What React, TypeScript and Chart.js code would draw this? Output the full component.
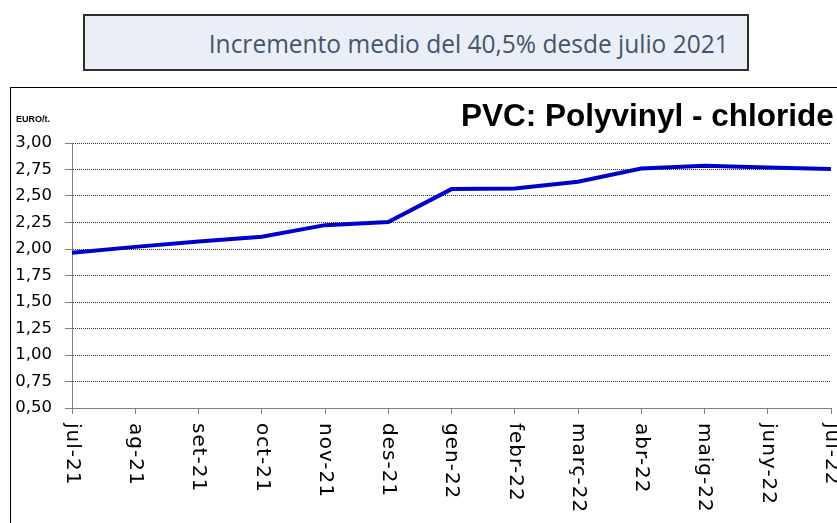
import React, { useEffect, useLayoutEffect, useRef } from 'react';
import { Chart, registerables } from 'chart.js';

Chart.register(...registerables);

const months = ['jul-21', 'ag-21', 'set-21', 'oct-21', 'nov-21', 'des-21', 'gen-22', 'febr-22', 'març-22', 'abr-22', 'maig-22', 'juny-22', 'jul-22'];
const pvcPrices = [1.965, 2.02, 2.07, 2.115, 2.225, 2.255, 2.565, 2.57, 2.635, 2.76, 2.785, 2.77, 2.755];
const yMin = 0.5;
const yMax = 3.0;
const yStep = 0.25;
const chartTitle = 'PVC: Polyvinyl - chloride';
const unitLabel = 'EURO/t.';
const headline = 'Incremento medio del 40,5% desde julio 2021';

const overlayPlugin = {
  id: 'overlay',
  afterDraw(chart: any) {
    const ctx = chart.ctx as CanvasRenderingContext2D;
    const xs = chart.scales.x;
    ctx.save();
    ctx.fillStyle = '#000';
    ctx.font = '20px "DejaVu Sans"';
    (ctx as any).letterSpacing = '1px';
    ctx.textAlign = 'left';
    ctx.textBaseline = 'middle';
    months.forEach((m, i) => {
      const x = xs.getPixelForTick(i);
      ctx.save();
      ctx.translate(x, xs.top + 15);
      ctx.rotate(Math.PI / 2);
      ctx.fillText(m, 0, 0);
      ctx.restore();
    });
    (ctx as any).letterSpacing = '0px';
    ctx.textBaseline = 'alphabetic';
    ctx.font = 'bold 31.5px "Liberation Sans"';
    ctx.fillText(chartTitle, 450, 38);
    ctx.font = 'bold 9px "Liberation Sans"';
    ctx.fillText(unitLabel, 5, 34);
    ctx.restore();
  },
};

function PvcChart() {
  const ref = useRef<HTMLCanvasElement>(null);
  useEffect(() => {
    if (!ref.current) return;
    const chart = new Chart(ref.current, {
      type: 'line',
      data: {
        labels: months,
        datasets: [
          {
            data: pvcPrices,
            borderColor: '#0000CC',
            backgroundColor: '#0000CC',
            borderWidth: 4,
            pointRadius: 0,
            tension: 0,
            fill: false,
          },
        ],
      },
      options: {
        animation: false,
        responsive: false,
        devicePixelRatio: 1,
        layout: { padding: { top: 55, right: 6, left: 0, bottom: 0 } },
        plugins: { legend: { display: false }, tooltip: { enabled: false }, title: { display: false } },
        scales: {
          x: {
            type: 'category',
            offset: false,
            ticks: { display: false },
            grid: { display: true, drawOnChartArea: false, drawTicks: true, tickLength: 6, tickColor: '#808080', tickWidth: 1 },
            border: { display: true, color: '#808080', width: 1 },
            afterFit: (scale: any) => { scale.height = 115; },
          },
          y: {
            min: yMin,
            max: yMax,
            ticks: {
              stepSize: yStep,
              color: '#000',
              padding: 13,
              font: { family: '"DejaVu Sans"', size: 16.5 },
              callback: (v: any) => Number(v).toFixed(2).replace('.', ','),
            },
            grid: { color: '#303030', lineWidth: 1, tickLength: 7, tickColor: '#808080', tickWidth: 1, tickBorderDash: [] },
            border: { display: true, color: '#808080', width: 1, dash: [1, 1] },
            afterFit: (scale: any) => { scale.width = 61; },
          },
        },
      },
      plugins: [overlayPlugin],
    } as any);
    return () => chart.destroy();
  }, []);
  return <canvas ref={ref} width={826} height={435} style={{ position: 'absolute', left: 11, top: 88, width: 826, height: 435 }} />;
}

function Headline() {
  const spanRef = useRef<HTMLSpanElement>(null);
  useLayoutEffect(() => {
    const s = spanRef.current;
    if (!s) return;
    const w = s.getBoundingClientRect().width;
    if (w > 0) s.style.transform = `scaleX(${520 / w})`;
  }, []);
  return (
    <div
      style={{
        position: 'absolute',
        left: 83,
        top: 14,
        width: 666,
        height: 57,
        boxSizing: 'border-box',
        border: '2px solid #2e2e2e',
        background: '#EAEFF7',
        display: 'flex',
        alignItems: 'center',
        justifyContent: 'flex-end',
        paddingRight: 18,
        overflow: 'hidden',
      }}
    >
      <span
        ref={spanRef}
        style={{
          fontFamily: '"Open Sans"',
          fontSize: 26,
          color: '#44546A',
          whiteSpace: 'nowrap',
          display: 'inline-block',
          transformOrigin: 'right center',
          lineHeight: 1,
        }}
      >
        {headline}
      </span>
    </div>
  );
}

export default function App() {
  return (
    <div style={{ position: 'fixed', left: 0, top: 0, width: 837, height: 523, overflow: 'hidden', background: '#fff' }}>
      <Headline />
      <div
        style={{
          position: 'absolute',
          left: 10,
          top: 87,
          width: 900,
          height: 500,
          borderLeft: '1px solid #000',
          borderTop: '1px solid #000',
        }}
      />
      <PvcChart />
    </div>
  );
}
